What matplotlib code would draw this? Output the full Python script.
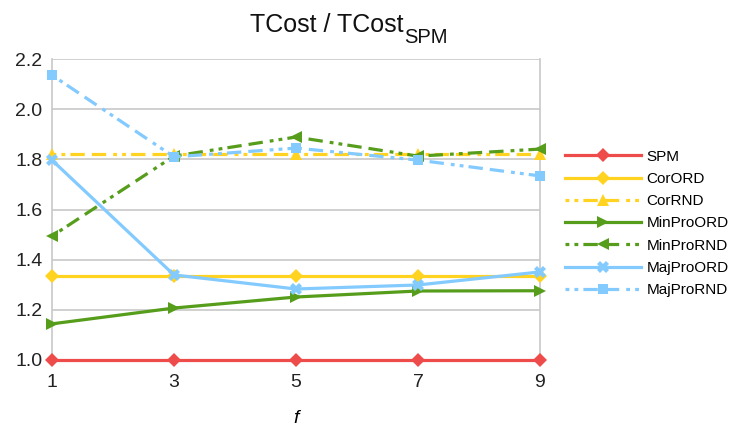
import matplotlib.pyplot as plt

plt.rcParams['font.family'] = ['Liberation Sans', 'DejaVu Sans']

f_vals = [1, 3, 5, 7, 9]
spm = [1.0, 1.0, 1.0, 1.0, 1.0]
cor_ord = [1.333, 1.333, 1.333, 1.333, 1.333]
cor_rnd = [1.82, 1.82, 1.82, 1.82, 1.82]
minpro_ord = [1.144, 1.207, 1.251, 1.275, 1.276]
minpro_rnd = [1.494, 1.813, 1.889, 1.813, 1.841]
majpro_ord = [1.797, 1.339, 1.283, 1.299, 1.351]
majpro_rnd = [2.136, 1.81, 1.845, 1.797, 1.734]

RED = '#EE4B4B'
YELLOW = '#FFD320'
GREEN = '#579D1C'
BLUE = '#83CAFF'
rnd_dash = (0, (1.2, 1.6, 1.2, 1.6, 4.5, 2.2, 4.5, 2.2))

fig = plt.figure(figsize=(7.31, 4.28), dpi=100)
ax = fig.add_axes([0.0711, 0.159, 0.6676, 0.703])

series = [
    ('SPM', spm, RED, '-', 'D', 7),
    ('CorORD', cor_ord, YELLOW, '-', 'D', 7),
    ('CorRND', cor_rnd, YELLOW, rnd_dash, '^', 8),
    ('MinProORD', minpro_ord, GREEN, '-', '>', 8),
    ('MinProRND', minpro_rnd, GREEN, rnd_dash, '<', 8),
    ('MajProORD', majpro_ord, BLUE, '-', 'X', 8),
    ('MajProRND', majpro_rnd, BLUE, rnd_dash, 's', 7),
]
for name, vals, col, ls, mk, ms in series:
    ax.plot(f_vals, vals, color=col, linestyle=ls, linewidth=2.3, marker=mk,
            markersize=ms, markeredgewidth=0, label=name, clip_on=False, zorder=3)

ax.set_xlim(1, 9)
ax.set_ylim(1.0, 2.2)
ax.set_xticks(f_vals)
ax.set_yticks([1.0, 1.2, 1.4, 1.6, 1.8, 2.0, 2.2])
ax.set_yticklabels(['1.0', '1.2', '1.4', '1.6', '1.8', '2.0', '2.2'])
ax.tick_params(length=0, labelsize=14, colors='#222222', pad=7)
ax.tick_params(axis='x', pad=10)
ax.grid(axis='y', color='#c8c8c8', linewidth=1.2)
for s in ['top', 'bottom']:
    ax.spines[s].set_visible(False)
for s in ['left', 'right']:
    ax.spines[s].set_color('#c8c8c8')
    ax.spines[s].set_linewidth(1.2)
ax.set_xlabel('f', fontstyle='italic', fontsize=14, labelpad=14)

# title with a large subscript, placed as two texts
title = fig.text(250 / 731, 1 - 31.7 / 428, 'TCost / TCost', fontsize=18,
                 ha='left', va='baseline', color='#111111')
fig.canvas.draw()
bb = title.get_window_extent().transformed(fig.transFigure.inverted())
fig.text(bb.x1 + 0.001, 1 - 42.7 / 428, 'SPM', fontsize=14.5,
         ha='left', va='baseline', color='#111111')

fig.legend(loc='center left', bbox_to_anchor=(0.754, 0.478), frameon=False,
           fontsize=11, handlelength=5.0, labelspacing=0.54, handletextpad=0.35)

fig.savefig('out.png', dpi=100)
